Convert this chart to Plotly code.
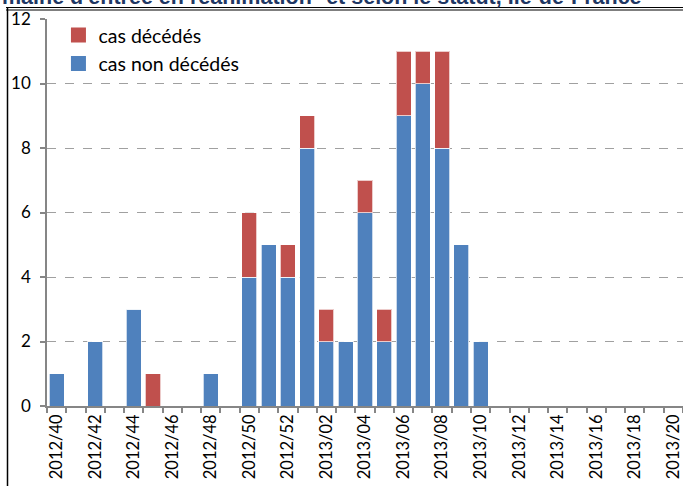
import plotly.graph_objects as go

weeks = ["2012/40", "2012/41", "2012/42", "2012/43", "2012/44", "2012/45", "2012/46", "2012/47",
         "2012/48", "2012/49", "2012/50", "2012/51", "2012/52",
         "2013/01", "2013/02", "2013/03", "2013/04", "2013/05", "2013/06", "2013/07", "2013/08",
         "2013/09", "2013/10", "2013/11", "2013/12", "2013/13", "2013/14", "2013/15", "2013/16",
         "2013/17", "2013/18", "2013/19", "2013/20"]
non_decedes = [1, 0, 2, 0, 3, 0, 0, 0, 1, 0, 4, 5, 4,
               8, 2, 2, 6, 2, 9, 10, 8, 5, 2, 0, 0, 0, 0, 0, 0, 0, 0, 0, 0]
decedes = [0, 0, 0, 0, 0, 1, 0, 0, 0, 0, 2, 0, 1,
           1, 1, 0, 1, 1, 2, 1, 3, 0, 0, 0, 0, 0, 0, 0, 0, 0, 0, 0, 0]
y_ticks = [0, 2, 4, 6, 8, 10, 12]
series_names = ["cas non décédés", "cas décédés"]
title_text = "maine d'entrée en réanimation* et selon le statut, Ile-de-France"

idx = list(range(len(weeks)))
BLUE = "#4F81BD"
RED = "#C0504D"
GRAY = "#868686"
FONT = "Lato"
EDGE = dict(color="rgba(255,255,255,0.7)", width=1)

fig = go.Figure()
fig.add_trace(go.Bar(x=idx, y=non_decedes, name=series_names[0], showlegend=False,
                     marker=dict(color=BLUE, line=EDGE)))
fig.add_trace(go.Bar(x=idx, y=decedes, name=series_names[1], showlegend=False,
                     marker=dict(color=RED, line=EDGE)))
# legend entries with larger square swatches
fig.add_trace(go.Scatter(x=[None], y=[None], mode="markers", name=series_names[1],
                         marker=dict(symbol="square", size=15, color=RED)))
fig.add_trace(go.Scatter(x=[None], y=[None], mode="markers", name=series_names[0],
                         marker=dict(symbol="square", size=15, color=BLUE)))

fig.update_layout(
    width=683, height=486,
    margin=dict(l=47, r=0, t=19, b=80, autoexpand=False),
    barmode="stack", bargap=0.22,
    plot_bgcolor="white", paper_bgcolor="white",
    font=dict(family=FONT, color="#000000"),
    showlegend=True,
    legend=dict(x=0.018, y=1.008, xanchor="left", yanchor="top", traceorder="normal",
                font=dict(size=19.5, family=FONT), bgcolor="rgba(0,0,0,0)",
                tracegroupgap=0, itemsizing="trace"),
)
fig.update_xaxes(
    range=[-0.5, len(weeks) - 0.5], automargin=False,
    tickmode="array", tickvals=idx[::2], ticktext=weeks[::2],
    tickangle=-90, tickfont=dict(size=16.5, family=FONT),
    ticks="", showgrid=False, zeroline=False,
    showline=True, linecolor=GRAY, linewidth=1.5,
    minor=dict(ticks="outside", tickmode="linear", tick0=0.5, dtick=1, ticklen=5,
               tickcolor=GRAY, tickwidth=1.5, showgrid=False),
)
fig.update_yaxes(
    range=[0, 12], tickmode="array", tickvals=y_ticks, automargin=False,
    tickfont=dict(size=17, family=FONT),
    ticks="outside", ticklen=5, tickcolor=GRAY, tickwidth=1.5,
    ticklabelstandoff=6,
    showgrid=True, gridcolor="#A0A0A0", griddash="dash", gridwidth=1.3,
    zeroline=False, showline=True, linecolor=GRAY, linewidth=1.5,
)

# frame lines (top double line and left border)
W = 636.0
H = 387.0
def px(x):
    return (x - 47) / W
def py(y):
    return (406 - y) / H

fig.add_shape(type="line", xref="paper", yref="paper", x0=px(6), x1=px(690), y0=py(7.5), y1=py(7.5),
              line=dict(color="#000000", width=1))
fig.add_shape(type="line", xref="paper", yref="paper", x0=px(6), x1=px(690), y0=py(10), y1=py(10),
              line=dict(color="#000000", width=1))
fig.add_shape(type="line", xref="paper", yref="paper", x0=px(7.5), x1=px(7.5), y0=py(7.5), y1=py(490),
              line=dict(color="#000000", width=1.5))

fig.add_annotation(text="<b>" + title_text + "</b>", xref="paper", yref="paper",
                   x=px(0), y=py(10.5), xanchor="left", yanchor="bottom", showarrow=False,
                   font=dict(size=21.5, family="Liberation Sans", color="#1F3864"))

fig.write_html("out.html", config={"displayModeBar": False},
               post_script="document.body.style.margin='0';document.body.style.overflow='hidden';")
